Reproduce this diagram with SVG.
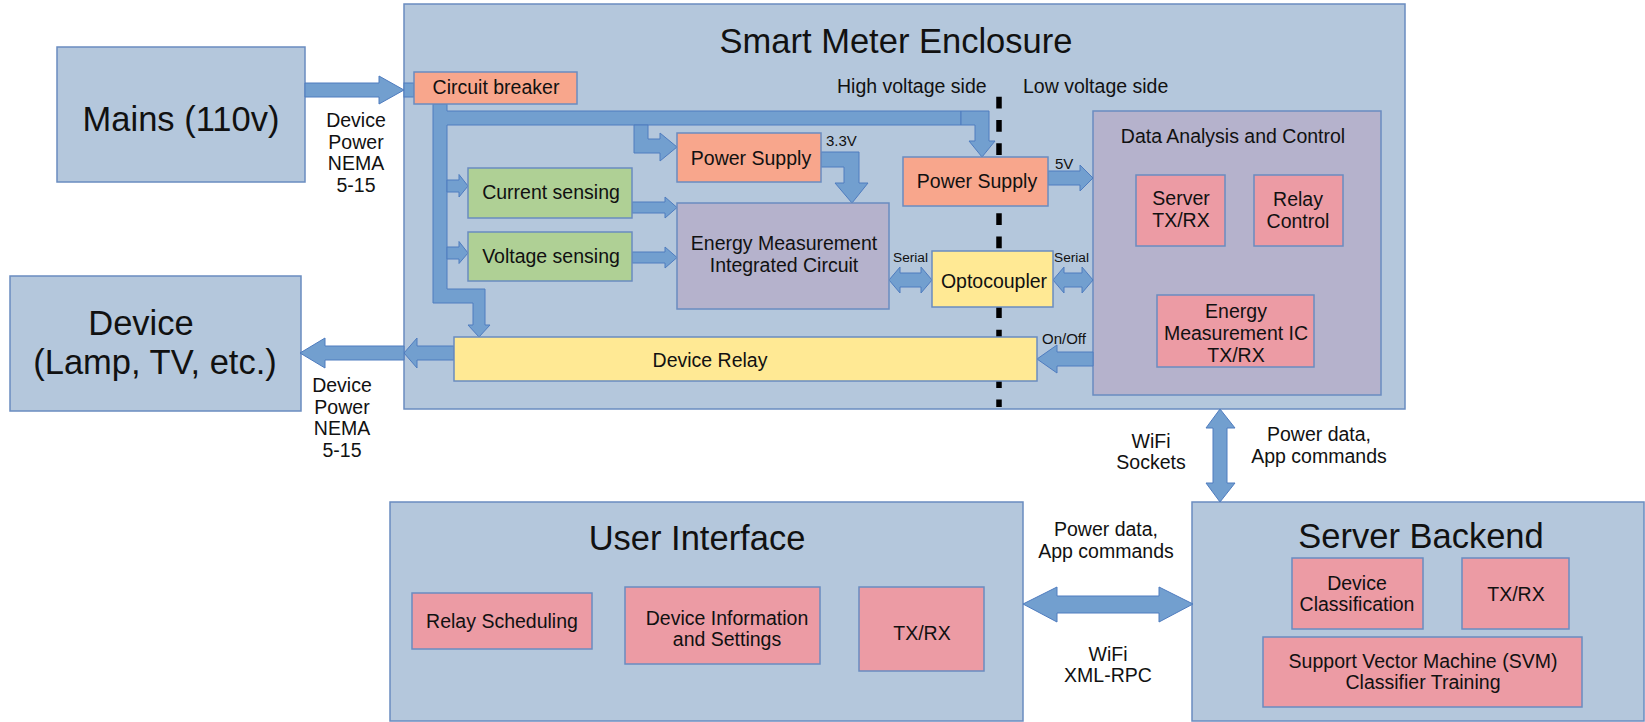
<svg xmlns="http://www.w3.org/2000/svg" width="1645" height="722" viewBox="0 0 1645 722">
<defs>
<style>
text{font-family:"Liberation Sans",Arial,sans-serif;fill:#111;text-anchor:middle}
.big{font-size:34.5px}
.t{font-size:19.5px}
.s{font-size:15px}
.xs{font-size:13.7px}
.st{text-anchor:start}
.blue{fill:#b4c7dc;stroke:#6a8cc0;stroke-width:1.5}
.red{fill:#f8a68c;stroke:#6a8cc0;stroke-width:1.5}
.green{fill:#afd095;stroke:#6a8cc0;stroke-width:1.5}
.purple{fill:#b5b2cc;stroke:#6a8cc0;stroke-width:1.5}
.yellow{fill:#ffe994;stroke:#6a8cc0;stroke-width:1.5}
.pink{fill:#ec9ba4;stroke:#6a8cc0;stroke-width:1.5}
.arr{fill:#729fcf;stroke:#4f7cbf;stroke-width:1}
</style>
</defs>
<rect width="1645" height="722" fill="#ffffff"/>

<g id="mains">
<rect class="blue" x="57" y="47" width="248" height="135"/>
<text class="big" x="181" y="131">Mains (110v)</text>
</g>
<g id="device">
<rect class="blue" x="10" y="276" width="291" height="135"/>
<text class="big" x="141" y="335">Device</text>
<text class="big" x="155" y="374">(Lamp, TV, etc.)</text>
</g>
<g id="enclosure">
<rect class="blue" x="404" y="4" width="1001" height="405"/>
<text x="896" y="53" style="font-size:34.5px">Smart Meter Enclosure</text>
<text class="t st" x="837" y="93">High voltage side</text>
<text class="t st" x="1023" y="93">Low voltage side</text>
<line x1="999" y1="96.7" x2="999" y2="407" stroke="#000" stroke-width="5.5" stroke-dasharray="11.7 11.6"/>
</g>
<g id="data-analysis">
<rect class="purple" x="1093" y="111" width="288" height="284"/>
<text class="t" x="1233" y="143">Data Analysis and Control</text>
</g>
<g id="user-interface">
<rect class="blue" x="390" y="502" width="633" height="219"/>
<text class="big" x="697" y="550">User Interface</text>
</g>
<g id="server-backend">
<rect class="blue" x="1192" y="502" width="452" height="219"/>
<text class="big" x="1421" y="548">Server Backend</text>
</g>

<g id="connectors">
<polygon class="arr" points="305,83 379,83 379,76 404,90 379,104 379,97 305,97"/>
<rect class="arr" x="404" y="83" width="10" height="14"/>
<polygon class="arr" points="433,104 447,104 447,111 961,111 961,125 447,125 447,289 485,289 485,325 490,325 479,337 468,325 473,325 473,303 433,303"/>
<polygon class="arr" points="961,111 989,111 989,141 995,141 982,157 969,141 975,141 975,125 961,125"/>
<polygon class="arr" points="634,125 648,125 648,139 660,139 660,133 677,147 660,161 660,153 634,153"/>
<polygon class="arr" points="447,180 459,180 459,174.5 468,186 459,197 459,192 447,192"/>
<polygon class="arr" points="447,247 459,247 459,241.5 468,253 459,263.5 459,259 447,259"/>
<polygon class="arr" points="632,202 665,202 665,197 677,207.5 665,218 665,213 632,213"/>
<polygon class="arr" points="632,252 665,252 665,247 677,257.5 665,268 665,263 632,263"/>
<polygon class="arr" points="821,152 859,152 859,183 868,183 852,203 835,183 844,183 844,167 821,167"/>
<polygon class="arr" points="1048,171 1080,171 1080,165 1093,178 1080,191 1080,185 1048,185"/>
<polygon class="arr" points="889,280 900,267 900,273 921,273 921,267 932,280 921,293 921,287 900,287 900,293"/>
<polygon class="arr" points="1053,280 1064,267 1064,273 1082,273 1082,267 1093,280 1082,293 1082,287 1064,287 1064,293"/>
<polygon class="arr" points="1093,352 1057,352 1057,345 1037,359 1057,373 1057,366 1093,366"/>
<polygon class="arr" points="454,346 417,346 417,338 404,353 417,368 417,360 454,360"/>
<polygon class="arr" points="404,346 325,346 325,338 300,353 325,368 325,360 404,360"/>
<polygon class="arr" points="1220,409 1235,428 1227,428 1227,483 1235,483 1220,502 1206,483 1213,483 1213,428 1206,428"/>
<polygon class="arr" points="1023,604 1057,587 1057,596 1159,596 1159,587 1193,604 1159,622 1159,613 1057,613 1057,622"/>
<text class="t" x="356" y="127">Device</text>
<text class="t" x="356" y="148.5">Power</text>
<text class="t" x="356" y="170">NEMA</text>
<text class="t" x="356" y="192">5-15</text>
<text class="t" x="342" y="392">Device</text>
<text class="t" x="342" y="413.5">Power</text>
<text class="t" x="342" y="435">NEMA</text>
<text class="t" x="342" y="457">5-15</text>
<text class="s st" x="826" y="146">3.3V</text>
<text class="s st" x="1055" y="169">5V</text>
<text class="xs st" x="893" y="262">Serial</text>
<text class="xs st" x="1054" y="262">Serial</text>
<text class="s st" x="1042" y="344">On/Off</text>
<text class="t" x="1151" y="448">WiFi</text>
<text class="t" x="1151" y="469">Sockets</text>
<text class="t" x="1319" y="441">Power data,</text>
<text class="t" x="1319" y="463">App commands</text>
<text class="t" x="1106" y="536">Power data,</text>
<text class="t" x="1106" y="558">App commands</text>
<text class="t" x="1108" y="661">WiFi</text>
<text class="t" x="1108" y="682">XML-RPC</text>
</g>

<g id="circuit-breaker">
<rect class="red" x="414" y="72" width="163" height="32"/>
<text class="t" x="496" y="94">Circuit breaker</text>
</g>
<g id="power-supply-hv">
<rect class="red" x="677" y="133" width="144" height="49"/>
<text class="t" x="751" y="165">Power Supply</text>
</g>
<g id="power-supply-lv">
<rect class="red" x="903" y="157" width="145" height="49"/>
<text class="t" x="977" y="188">Power Supply</text>
</g>
<g id="current-sensing">
<rect class="green" x="468" y="168" width="164" height="50"/>
<text class="t" x="551" y="199">Current sensing</text>
</g>
<g id="voltage-sensing">
<rect class="green" x="468" y="232" width="164" height="49"/>
<text class="t" x="551" y="263">Voltage sensing</text>
</g>
<g id="energy-ic">
<rect class="purple" x="677" y="203" width="212" height="106"/>
<text class="t" x="784" y="250">Energy Measurement</text>
<text class="t" x="784" y="272">Integrated Circuit</text>
</g>
<g id="optocoupler">
<rect class="yellow" x="932" y="251" width="121" height="56"/>
<text class="t" x="994" y="288">Optocoupler</text>
</g>
<g id="device-relay">
<rect class="yellow" x="454" y="337" width="583" height="44"/>
<text class="t" x="710" y="367">Device Relay</text>
</g>
<g id="server-txrx">
<rect class="pink" x="1136" y="175" width="89" height="71"/>
<text class="t" x="1181" y="205">Server</text>
<text class="t" x="1181" y="227">TX/RX</text>
</g>
<g id="relay-control">
<rect class="pink" x="1254" y="175" width="89" height="71"/>
<text class="t" x="1298" y="206">Relay</text>
<text class="t" x="1298" y="228">Control</text>
</g>
<g id="energy-ic-txrx">
<rect class="pink" x="1157" y="295" width="157" height="72"/>
<text class="t" x="1236" y="318">Energy</text>
<text class="t" x="1236" y="340">Measurement IC</text>
<text class="t" x="1236" y="362">TX/RX</text>
</g>
<g id="relay-scheduling">
<rect class="pink" x="412" y="593" width="180" height="56"/>
<text class="t" x="502" y="628">Relay Scheduling</text>
</g>
<g id="device-info">
<rect class="pink" x="625" y="587" width="195" height="77"/>
<text class="t" x="727" y="625">Device Information</text>
<text class="t" x="727" y="646">and Settings</text>
</g>
<g id="ui-txrx">
<rect class="pink" x="859" y="587" width="125" height="84"/>
<text class="t" x="922" y="640">TX/RX</text>
</g>
<g id="device-classification">
<rect class="pink" x="1292" y="558" width="131" height="71"/>
<text class="t" x="1357" y="590">Device</text>
<text class="t" x="1357" y="611">Classification</text>
</g>
<g id="sb-txrx">
<rect class="pink" x="1462" y="558" width="107" height="71"/>
<text class="t" x="1516" y="601">TX/RX</text>
</g>
<g id="svm">
<rect class="pink" x="1263" y="637" width="319" height="70"/>
<text class="t" x="1423" y="668">Support Vector Machine (SVM)</text>
<text class="t" x="1423" y="689">Classifier Training</text>
</g>
</svg>
